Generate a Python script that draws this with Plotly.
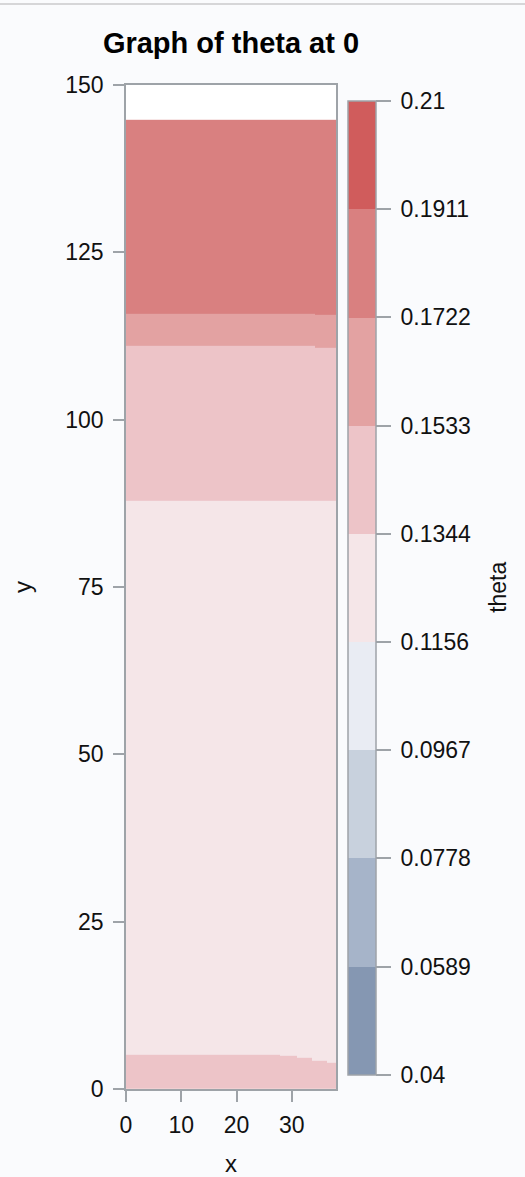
import plotly.graph_objects as go

# ---- data ----
# column edges along x and row edges along y (cell boundaries of the theta grid)
x_edges = [0, 27.8, 30.9, 33.6, 34.2, 36.3, 38]
y_edges = [0, 3.97, 4.27, 4.63, 4.97, 5.12, 87.9, 110.7, 111.0, 115.6, 115.8, 144.8]
# theta values per cell, rows bottom -> top, one value per x column
theta_rows = [
    [0.140, 0.140, 0.140, 0.140, 0.140, 0.140],
    [0.140, 0.140, 0.140, 0.140, 0.140, 0.125],
    [0.140, 0.140, 0.140, 0.125, 0.125, 0.125],
    [0.140, 0.140, 0.125, 0.125, 0.125, 0.125],
    [0.140, 0.125, 0.125, 0.125, 0.125, 0.125],
    [0.125, 0.125, 0.125, 0.125, 0.125, 0.125],
    [0.145, 0.145, 0.145, 0.145, 0.145, 0.145],
    [0.145, 0.145, 0.145, 0.145, 0.160, 0.160],
    [0.160, 0.160, 0.160, 0.160, 0.160, 0.160],
    [0.160, 0.160, 0.160, 0.160, 0.180, 0.180],
    [0.180, 0.180, 0.180, 0.180, 0.180, 0.180],
]
level_bounds = [0.04, 0.0589, 0.0778, 0.0967, 0.1156, 0.1344, 0.1533, 0.1722, 0.1911, 0.21]
level_labels = ["0.04", "0.0589", "0.0778", "0.0967", "0.1156", "0.1344", "0.1533", "0.1722", "0.1911", "0.21"]
band_colors = ["#8597b2", "#a6b4c9", "#c8d1dd", "#e9ecf3", "#f5e6e8",
               "#edc4c8", "#e3a2a2", "#d98080", "#d05c5c"]
x_ticks = [0, 10, 20, 30]
y_ticks = [0, 25, 50, 75, 100, 125, 150]

# ---- stepped colorscale ----
zmin, zmax = level_bounds[0], level_bounds[-1]
colorscale = []
for i, c in enumerate(band_colors):
    a = (level_bounds[i] - zmin) / (zmax - zmin)
    b = (level_bounds[i + 1] - zmin) / (zmax - zmin)
    colorscale.append([a, c])
    colorscale.append([b, c])

FONT = "Liberation Sans, Arial, sans-serif"
GRID = "#9ea3a8"
TXT = "#111111"

fig = go.Figure()
fig.add_trace(go.Heatmap(
    x=x_edges, y=y_edges, z=theta_rows,
    zmin=zmin, zmax=zmax, zsmooth=False,
    colorscale=colorscale,
    hoverinfo="skip",
    colorbar=dict(
        x=(348 - 126) / 210, xanchor="left", xpad=0,
        y=(1089.3 - 588) / 1004.3, yanchor="middle", ypad=0,
        len=974, lenmode="pixels",
        thickness=28, thicknessmode="pixels",
        outlinewidth=1.5, outlinecolor=GRID,
        tickmode="array", tickvals=level_bounds,
        ticktext=["\u2009" + t for t in level_labels],
        ticks="outside", ticklen=15, tickcolor=GRID, tickwidth=1.5,
        tickfont=dict(family=FONT, size=23, color=TXT),
    ),
))

axis_common = dict(
    showgrid=False, zeroline=False, automargin=False,
    showline=True, linecolor=GRID, linewidth=1.5, mirror=True,
    ticks="outside", ticklen=11, tickcolor=GRID, tickwidth=1.5,
    tickfont=dict(family=FONT, size=23, color=TXT),
)

fig.update_layout(
    width=525, height=1177,
    margin=dict(l=126, r=189, t=85, b=88, autoexpand=False),
    paper_bgcolor="#fafbfd",
    plot_bgcolor="#ffffff",
    title=dict(text="<b>Graph of theta at 0</b>", x=0.5, xref="paper",
               y=1 - 43 / 1177, yref="container", yanchor="middle",
               font=dict(family=FONT, size=29, color="#000")),
    xaxis=dict(range=[0, 38], tickvals=x_ticks, ticklabelstandoff=4,
               title=dict(text="x", font=dict(family=FONT, size=24, color=TXT), standoff=26),
               **axis_common),
    yaxis=dict(range=[0, 150], tickvals=y_ticks, ticklabelstandoff=5,
               title=dict(text="y", font=dict(family=FONT, size=24, color=TXT), standoff=27),
               **axis_common),
    annotations=[dict(text="theta", textangle=-90, xref="paper", yref="paper",
                      x=(498 - 126) / 210, y=(1089.3 - 588) / 1004.3,
                      xanchor="center", yanchor="middle", showarrow=False,
                      font=dict(family=FONT, size=23, color=TXT))],
    shapes=[dict(type="line", xref="paper", yref="paper",
                 x0=-0.61, x1=1.91, y0=(1089.3 - 4) / 1004.3, y1=(1089.3 - 4) / 1004.3,
                 line=dict(color="#d6d6d8", width=2))],
)

fig.write_html("out.html")
